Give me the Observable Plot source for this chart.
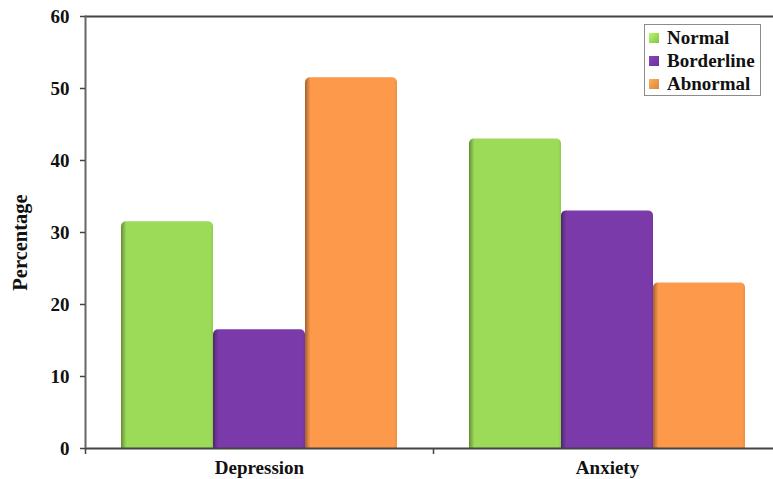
<!DOCTYPE html>
<html>
<head>
<meta charset="utf-8">
<script src="https://cdn.jsdelivr.net/npm/d3@7"></script>
<script src="https://cdn.jsdelivr.net/npm/@observablehq/plot@0.6"></script>
<style>
  html, body { margin: 0; padding: 0; background: #fff; overflow: hidden; }
  #chart { position: relative; width: 773px; height: 479px; overflow: hidden; }
  #chart svg { overflow: hidden; }
  .legend {
    position: absolute; left: 644px; top: 24px; width: 117px; height: 72px;
    border: 1px solid #8c8c8c; background: #fff; box-sizing: border-box;
    font-family: "Liberation Serif", "Times New Roman", serif; font-weight: bold; font-size: 19px;
    color: #111; padding-top: 1px;
  }
  .legend .row { display: flex; align-items: center; height: 23.3px; }
  .legend .sw { width: 10px; height: 10px; margin: 0 8px 0 4px; box-sizing: border-box; }
</style>
</head>
<body>
<div id="chart"></div>
<script>
// Categories, series and values
const categories = ["Depression", "Anxiety"];
const series = ["Normal", "Borderline", "Abnormal"];
const depression = [31.5, 16.5, 51.5];
const anxiety = [43, 33, 23];
const colors = ["#9bdb58", "#7b3aa9", "#fc994a"];
const yTicks = [0, 10, 20, 30, 40, 50, 60];
const yLabel = "Percentage";

const rows = [];
[depression, anxiety].forEach((vals, ci) => {
  vals.forEach((v, si) => rows.push({category: categories[ci], series: series[si], value: v}));
});

const W = 773, H = 479;
const left = 85;
// the category bands run past the right edge of the picture
const fxRange = [left, 781];
const halfBand = (fxRange[1] - fxRange[0]) / categories.length / 2;
const axisColor = "#444";
const font = "'Liberation Serif', 'Times New Roman', serif";

const plot = Plot.plot({
  width: W,
  height: H,
  marginLeft: left,
  marginRight: 0,
  marginTop: 16,
  marginBottom: 31,
  style: {fontFamily: font, background: "#fff", color: "#111"},
  fx: {domain: categories, range: fxRange, padding: 0, label: null},
  x: {domain: series, paddingInner: 0, paddingOuter: 0.377, axis: null},
  y: {domain: [0, 60]},
  color: {domain: series, range: series.map((s, i) => `url(#bar-${i})`)},
  marks: [
    Plot.barY(rows, {
      fx: "category", x: "series", y: "value", fill: "series",
      rx: 5, insetBottom: -10, clip: true
    }),
    Plot.ruleY([60], {stroke: axisColor, strokeWidth: 2}),
    Plot.ruleY([0], {stroke: axisColor, strokeWidth: 2}),
    Plot.frame({anchor: "left", facetAnchor: "left", stroke: "#666", strokeWidth: 2}),
    Plot.axisY({
      ticks: yTicks, tickSize: 5, tickPadding: 11, stroke: axisColor, strokeWidth: 1.5,
      fontSize: 19, fontWeight: "bold", fill: "#111", label: null
    }),
    // axis title, rotated along the left edge
    Plot.text([yLabel], {
      text: d => d, frameAnchor: "left", facetAnchor: "left", rotate: -90,
      textAnchor: "middle", lineAnchor: "top", dx: -73, dy: 10,
      fontSize: 20.5, fontWeight: "bold", fill: "#111"
    }),
    Plot.axisFx({
      anchor: "bottom", tickSize: 0, tickPadding: 12, label: null,
      fontSize: 19, fontWeight: "bold", fill: "#111"
    }),
    Plot.axisFx({
      anchor: "bottom", tickSize: 6, fill: "none", label: null,
      stroke: axisColor, strokeWidth: 1.5, dx: -halfBand
    })
  ]
});

// horizontal shading for the bar fills
const defs = d3.create("svg:defs");
colors.forEach((col, i) => {
  const c = d3.color(col);
  const g = defs.append("linearGradient").attr("id", `bar-${i}`)
    .attr("x1", 0).attr("x2", 1).attr("y1", 0).attr("y2", 0);
  g.append("stop").attr("offset", "0%").attr("stop-color", c.darker(1.3).formatHex());
  g.append("stop").attr("offset", "3%").attr("stop-color", c.darker(0.5).formatHex());
  g.append("stop").attr("offset", "6%").attr("stop-color", c.formatHex());
  g.append("stop").attr("offset", "97%").attr("stop-color", c.formatHex());
  g.append("stop").attr("offset", "100%").attr("stop-color", c.darker(0.2).formatHex());
});
plot.insertBefore(defs.node(), plot.firstChild);

const chart = document.getElementById("chart");
chart.appendChild(plot);

// legend
const legend = document.createElement("div");
legend.className = "legend";
series.forEach((s, i) => {
  const row = document.createElement("div");
  row.className = "row";
  const sw = document.createElement("span");
  sw.className = "sw";
  const c = d3.color(colors[i]);
  sw.style.background = `linear-gradient(135deg, ${c.brighter(0.4).formatHex()}, ${c.darker(0.4).formatHex()})`;
  row.appendChild(sw);
  row.appendChild(document.createTextNode(s));
  legend.appendChild(row);
});
chart.appendChild(legend);
</script>
</body>
</html>
